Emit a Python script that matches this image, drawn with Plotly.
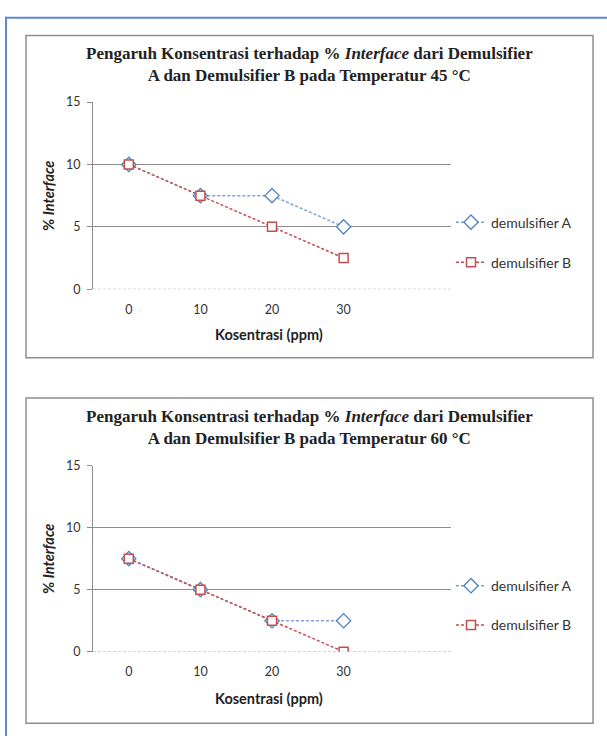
import plotly.graph_objects as go

W, H = 607, 743

# ---- data ----
konsentrasi = [0, 10, 20, 30]
x_ticks = [0, 10, 20, 30]
y_ticks = [0, 5, 10, 15]
series_names = ["demulsifier A", "demulsifier B"]
a_45 = [10, 7.5, 7.5, 5]
b_45 = [10, 7.5, 5, 2.5]
a_60 = [7.5, 5, 2.5, 2.5]
b_60 = [7.5, 5, 2.5, 0]
titles = [
    "Pengaruh Konsentrasi terhadap % <i>Interface</i> dari Demulsifier<br>A dan Demulsifier B pada Temperatur 45 \u00b0C",
    "Pengaruh Konsentrasi terhadap % <i>Interface</i> dari Demulsifier<br>A dan Demulsifier B pada Temperatur 60 \u00b0C",
]
x_title = "Kosentrasi (ppm)"
y_title = "% <i>Interface</i>"


def fx(px):
    return px / W


def fy(py):
    return 1 - py / H


BLUE_LINE = "#7EA3D6"
BLUE_MK = "#4F81BD"
RED = "#C0504D"
GRID = "#8C8C8C"
TXT = "#333333"
SANS = "Lato"
SERIF = "Liberation Serif"

fig = go.Figure()

charts = [
    dict(box=(28, 357), plot=(96, 287), title=58, xt=333, leg=(219, 260), a=a_45, b=b_45),
    dict(box=(398, 730), plot=(467, 657), title=428, xt=705, leg=(590, 630), a=a_60, b=b_60),
]

PLOT_L, PLOT_R = 93, 451
BOX_L, BOX_R = 26, 593

shapes = []
annotations = []

# outer blue frame
shapes.append(dict(type="line", xref="paper", yref="paper", x0=fx(5), x1=1.0, y0=fy(10), y1=fy(10),
                   line=dict(color="#5B8BC9", width=2)))
shapes.append(dict(type="line", xref="paper", yref="paper", x0=fx(6), x1=fx(6), y0=fy(9), y1=0,
                   line=dict(color="#5B8BC9", width=2)))

for i, c in enumerate(charts):
    n = "" if i == 0 else str(i + 1)
    xa = "x" + n
    ya = "y" + n
    la = "legend" if i == 0 else "legend3"
    lb = "legend2" if i == 0 else "legend4"

    fig.add_trace(go.Scatter(
        x=konsentrasi, y=c["a"], name=series_names[0], mode="lines+markers",
        xaxis=xa, yaxis=ya, legend=la,
        line=dict(color=BLUE_LINE, width=1.5, dash="3px,2px"),
        marker=dict(symbol="diamond", size=11, color="white", line=dict(color=BLUE_MK, width=1.3)),
    ))
    fig.add_trace(go.Scatter(
        x=konsentrasi, y=c["b"], name=series_names[1], mode="lines+markers",
        xaxis=xa, yaxis=ya, legend=lb,
        line=dict(color=RED, width=1.5, dash="3px,2px"),
        marker=dict(symbol="square", size=9, color="white", line=dict(color=RED, width=1.5)),
    ))

    top, bot = c["plot"]
    xaxis = dict(
        domain=[fx(PLOT_L), fx(PLOT_R)], anchor=ya, range=[-5, 45],
        tickvals=x_ticks, ticktext=[str(v) for v in x_ticks],
        showgrid=False, zeroline=False, showline=False, ticks="",
        ticklabelstandoff=11,
        tickfont=dict(family=SANS, size=12.5, color=TXT),
    )
    yaxis = dict(
        domain=[fy(bot), fy(top)], anchor=xa, range=[0, 15],
        tickvals=y_ticks, showgrid=True, gridcolor=GRID, gridwidth=1,
        zeroline=True, zerolinecolor="rgba(0,0,0,0)",
        showline=True, linecolor=GRID, linewidth=1,
        ticks="outside", ticklen=5, tickcolor=GRID,
        ticklabelstandoff=4,
        tickfont=dict(family=SANS, size=12.5, color=TXT),
    )
    fig.update_layout(**{"xaxis" + n: xaxis, "yaxis" + n: yaxis})

    # dotted base line at y=0
    shapes.append(dict(type="line", xref=xa + " domain", yref=ya, x0=0, x1=1, y0=0, y1=0,
                       layer="below", line=dict(color="#B8B8B8", width=1, dash="3px,2px")))

    # chart box
    b0, b1 = c["box"]
    shapes.append(dict(type="rect", xref="paper", yref="paper", x0=fx(BOX_L), x1=fx(BOX_R),
                       y0=fy(b1), y1=fy(b0), line=dict(color="#8F8F8F", width=1.5), layer="below"))

    # title
    annotations.append(dict(text="<b>" + titles[i] + "</b>", xref="paper", yref="paper",
                            x=fx(309), y=fy(c["title"]), xanchor="center", yanchor="middle",
                            showarrow=False, font=dict(family=SERIF, size=17, color="#222222")))
    # axis titles
    annotations.append(dict(text="<b>" + x_title + "</b>", xref="paper", yref="paper",
                            x=fx((PLOT_L + PLOT_R) / 2 - 3), y=fy(c["xt"]), xanchor="center", yanchor="middle",
                            showarrow=False, font=dict(family=SANS, size=14.5, color="#222222")))
    annotations.append(dict(text="<b>" + y_title + "</b>", xref="paper", yref="paper",
                            x=fx(49), y=fy((top + bot) / 2), xanchor="center", yanchor="middle",
                            textangle=-90, showarrow=False,
                            font=dict(family=SANS, size=14.5, color="#222222")))

    # legends
    legA, legB = c["leg"]
    for lname, ly in ((la, legA), (lb, legB)):
        fig.update_layout(**{lname: dict(
            x=fx(451), y=fy(ly), xanchor="left", yanchor="middle",
            bgcolor="rgba(0,0,0,0)", borderwidth=0,
            font=dict(family=SANS, size=14, color=TXT),
        )})

fig.update_layout(
    width=W, height=H, margin=dict(l=0, r=0, t=0, b=0),
    paper_bgcolor="white", plot_bgcolor="white",
    shapes=shapes, annotations=annotations, showlegend=True,
)

fig.write_html("out.html")
